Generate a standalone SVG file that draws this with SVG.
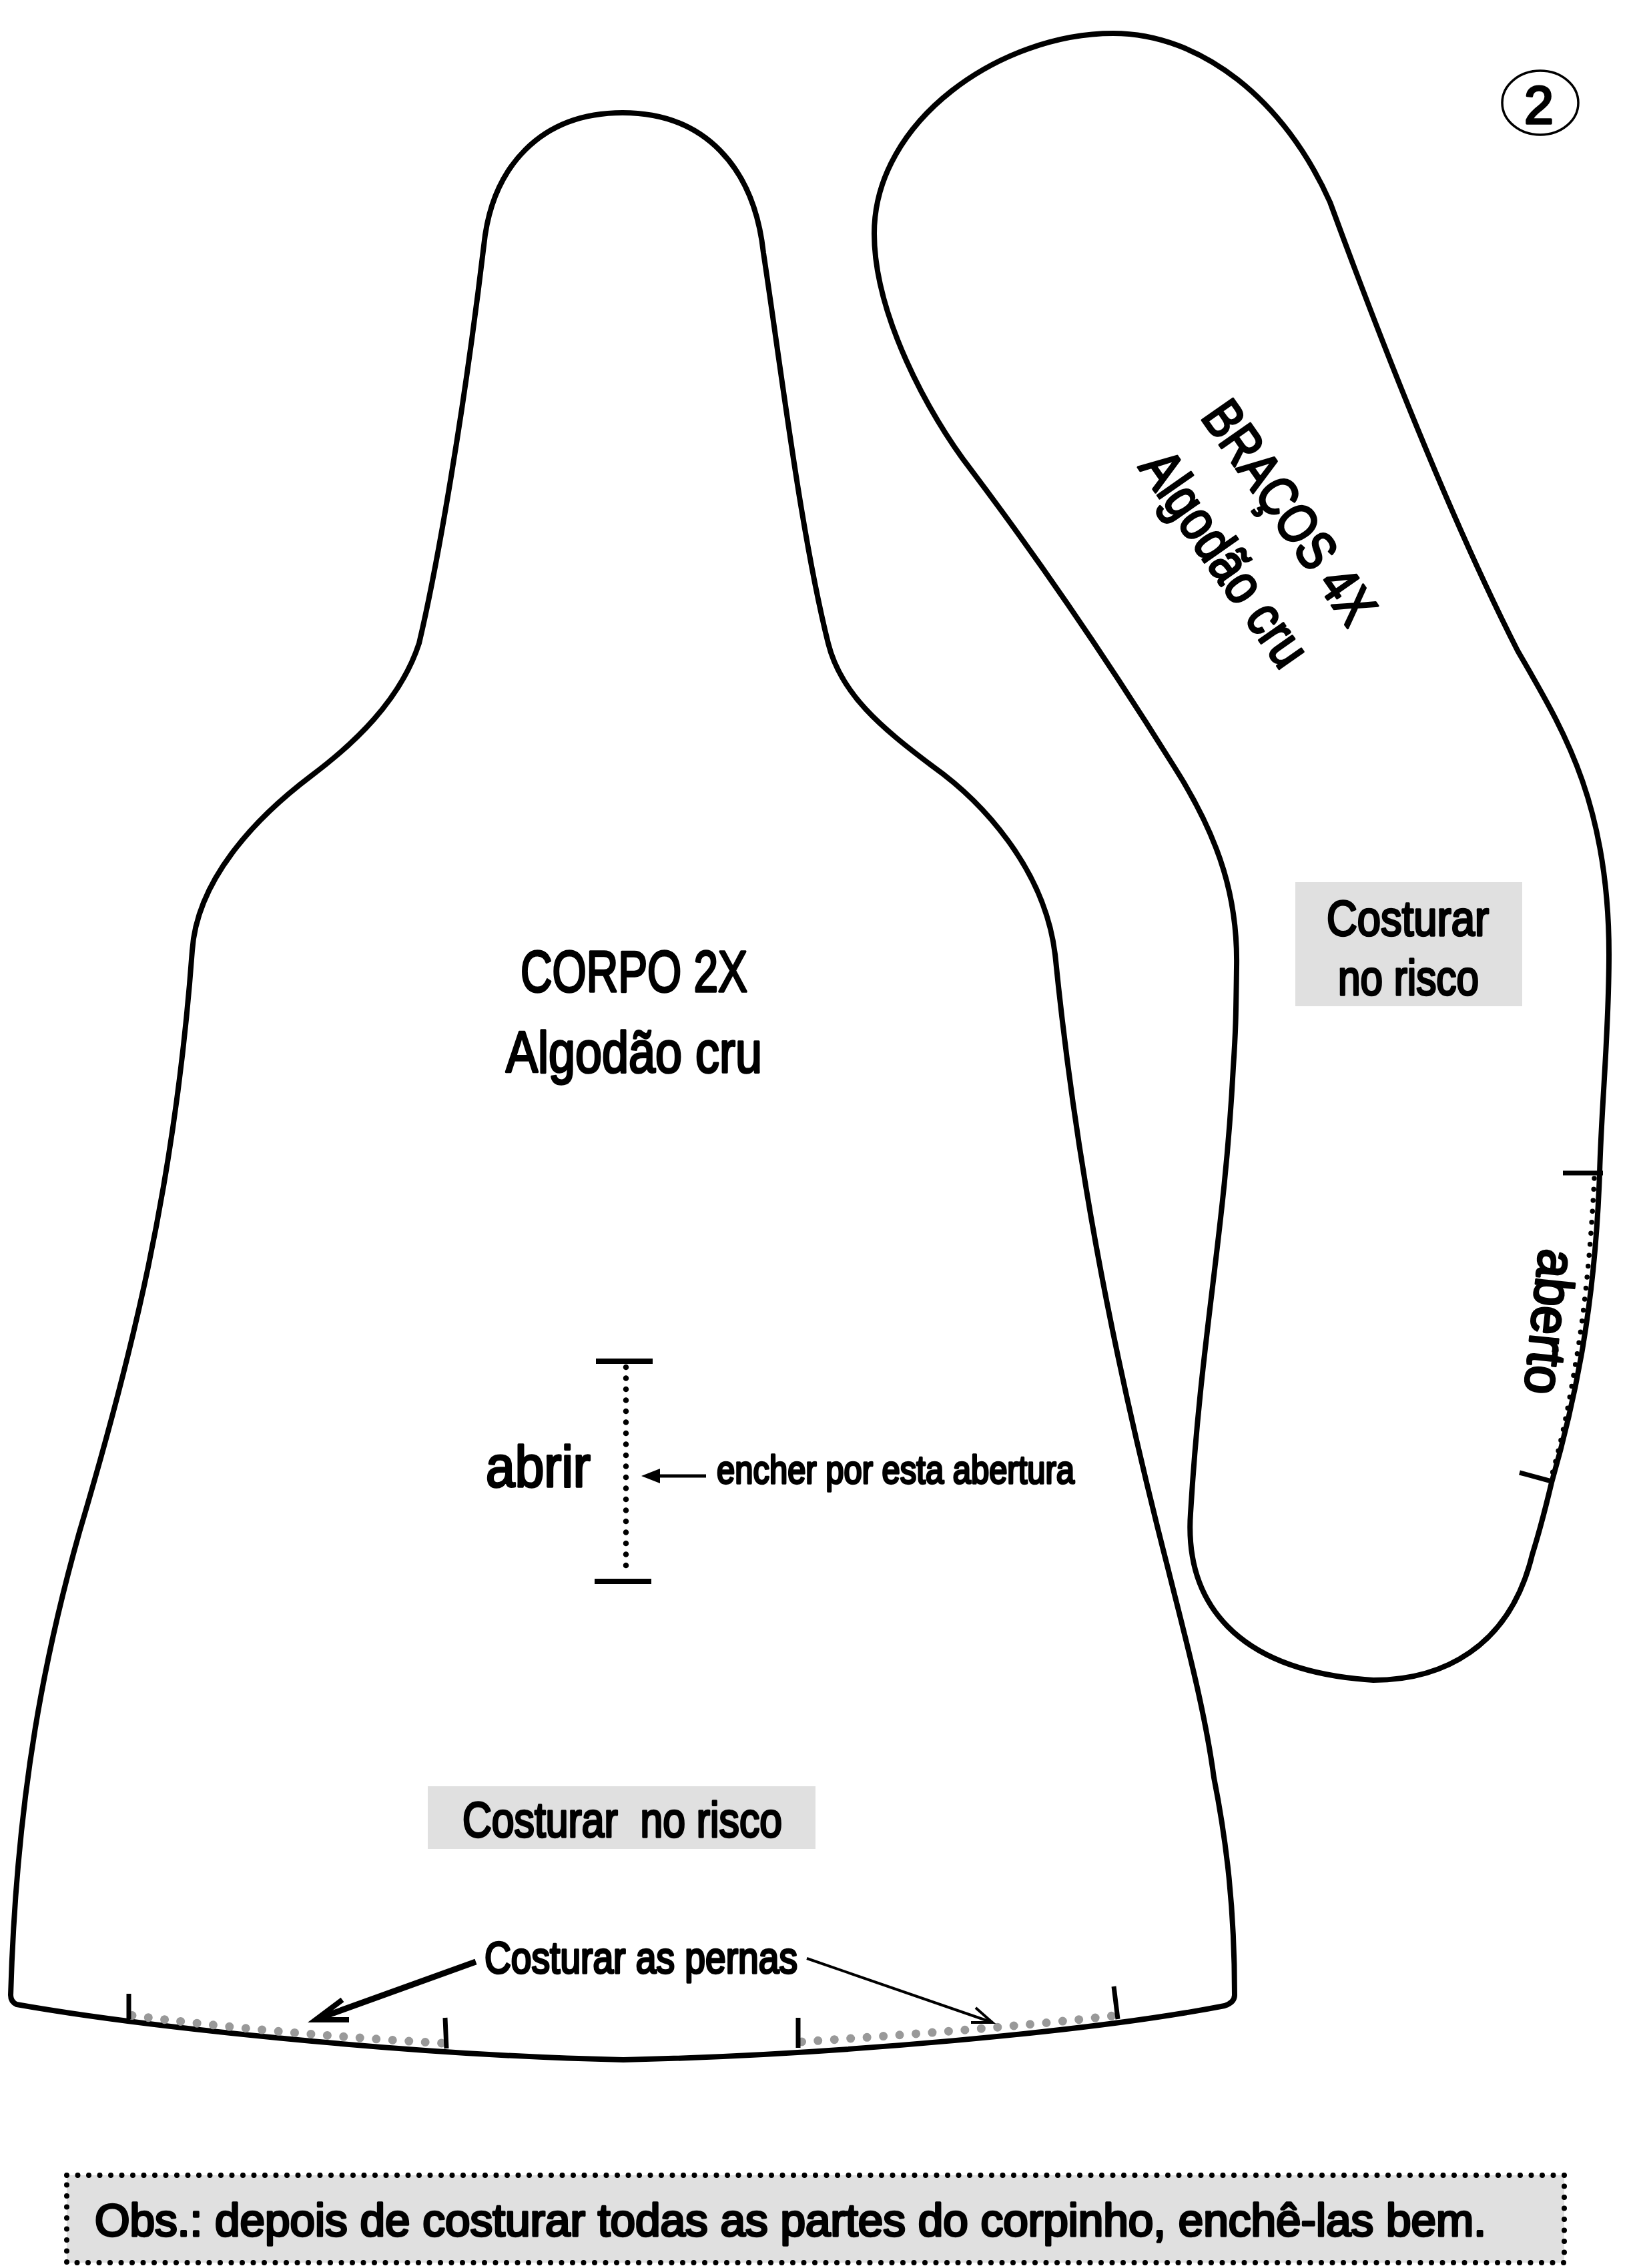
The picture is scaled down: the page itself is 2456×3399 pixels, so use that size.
<svg xmlns="http://www.w3.org/2000/svg" width="2456" height="3399" viewBox="0 0 2456 3399">
<style>
.o{fill:none;stroke:#000;stroke-width:8;stroke-linecap:round;stroke-linejoin:round}
.b{fill:none;stroke:#000;stroke-linecap:butt}
.d{fill:none;stroke:#000;stroke-linecap:round;stroke-dasharray:0 16.5}
.g{fill:none;stroke:#999;stroke-width:13;stroke-linecap:round;stroke-dasharray:0 24.5}
.box{fill:#e0e0e0}
text{font-family:"Liberation Sans",Arial,sans-serif;fill:#000;stroke:#000;stroke-linejoin:round;stroke-width:3.5;white-space:pre}
</style>
<rect width="2456" height="3399" fill="#fff"/>
<g id="body">
<path class="o" d="M933,169 C810,169 737,250 725,368 C695,620 655,850 628,964 C600,1050 530,1115 466,1163 C380,1228 295,1320 288,1425 C262,1780 195,2040 119,2296 C70,2470 25,2680 16,2990 Q16,3000 25,3004 C200,3035 600,3080 934,3087 C1250,3080 1640,3044 1835,3006 Q1850,3001 1850,2990 C1850,2860 1838,2760 1819,2664 C1805,2560 1775,2450 1750,2350 C1660,2000 1610,1720 1581,1430 C1565,1300 1470,1200 1397,1148 C1320,1090 1260,1040 1241,964 C1200,800 1170,550 1144,379 C1130,250 1055,169 933,169Z"/>
<g id="corpo-label">
<text x="780" y="1486" font-size="88" textLength="340" lengthAdjust="spacingAndGlyphs">CORPO 2X</text>
<text x="758" y="1607" font-size="88" textLength="384" lengthAdjust="spacingAndGlyphs">Algodão cru</text>
</g>
</g>
<g id="abrir">
<rect x="893" y="2036" width="85" height="8"/>
<rect x="891" y="2366" width="85" height="8"/>
<path class="d" stroke-width="8.5" d="M938,2049V2362"/>
<text x="728" y="2228" font-size="88" textLength="157" lengthAdjust="spacingAndGlyphs" stroke-width="5">abrir</text>
<text x="1074" y="2223" font-size="60" textLength="536" lengthAdjust="spacingAndGlyphs" stroke-width="2.2">encher por esta abertura</text>
</g>
<g id="costurar-body">
<rect class="box" x="641" y="2677" width="581" height="94"/>
<text x="693" y="2753" font-size="74" textLength="479" lengthAdjust="spacingAndGlyphs">Costurar  no risco</text>
</g>
<g id="pernas">
<text x="726" y="2957" font-size="66" textLength="469" lengthAdjust="spacingAndGlyphs" stroke-width="2.5">Costurar as pernas</text>
<path class="g" d="M198,3020.5 C330,3038 500,3053 663,3062"/>
<path class="g" d="M1201.5,3060 C1350,3050 1520,3038 1673,3020.5"/>
<path class="b" stroke-width="7" d="M193,2988V3026M667,3024L669,3070M1196,3024V3069M1669,2977L1675,3026"/>
</g>
<g id="arm">
<path class="o" d="M1668,50 C1500,50 1310,180 1310,350 C1310,470 1390,620 1455,704 C1550,830 1660,990 1760,1150 C1830,1260 1855,1350 1853,1450 C1852,1520 1852,1540 1848,1600 C1835,1850 1800,2000 1784,2268 C1775,2400 1850,2505 2058,2518 C2160,2518 2262,2470 2296,2330 C2310,2285 2325,2222 2325,2222 C2360,2100 2390,1960 2397,1758 C2400,1650 2411,1550 2411,1430 C2411,1200 2340,1090 2274,975 C2180,790 2080,540 1993,303 C1925,150 1800,50 1668,50Z"/>
<g id="arm-label" >
<text transform="translate(1798,625) rotate(55)" font-size="82" textLength="388" lengthAdjust="spacingAndGlyphs">BRAÇOS 4X</text>
<text transform="translate(1705,700) rotate(55)" font-size="84" textLength="374" lengthAdjust="spacingAndGlyphs">Algodão cru</text>
</g>
<g id="aberto">
<path class="b" stroke-width="7" d="M2342,1758H2402M2277,2207L2325,2220"/>
<path class="d" stroke-width="7.5" d="M2389,1766 C2385,1850 2376,1960 2360,2049 C2350,2110 2340,2160 2325,2212"/>
<text transform="translate(2307,1870) rotate(96)" font-size="80" textLength="218" lengthAdjust="spacingAndGlyphs" stroke-width="4">aberto</text>
</g>
<g id="costurar-arm">
<rect class="box" x="1941" y="1322" width="340" height="186"/>
<text x="1988" y="1402" font-size="74" textLength="243" lengthAdjust="spacingAndGlyphs">Costurar</text>
<text x="2005" y="1491" font-size="74" textLength="211" lengthAdjust="spacingAndGlyphs">no risco</text>
</g>
</g>
<g id="page-number">
<ellipse cx="2308" cy="154" rx="57" ry="48" fill="none" stroke="#000" stroke-width="3.5"/>
<text x="2284" y="185" font-size="80" textLength="44" lengthAdjust="spacingAndGlyphs" stroke-width="0">2</text>
</g>
<g id="note">
<rect class="box" x="100" y="3260" width="2244" height="131"/>
<path class="d" stroke-width="8" d="M100,3260H2344V3391H100Z"/>
<text x="142" y="3351" font-size="68" textLength="2085" lengthAdjust="spacingAndGlyphs">Obs.: depois de costurar todas as partes do corpinho, enchê-las bem.</text>
</g>
<g id="connectors">
<path d="M1058,2212H985" stroke="#000" stroke-width="5" fill="none"/>
<path d="M961,2212L989,2201V2223Z" fill="#000"/>
<path d="M713,2940L480,3024" stroke="#000" stroke-width="9" fill="none"/>
<path d="M513,2997L473,3027H523" stroke="#000" stroke-width="8" fill="none"/>
<path d="M1209,2935L1487,3031" stroke="#000" stroke-width="4" fill="none"/>
<path d="M1462,3009L1487,3031H1455" stroke="#000" stroke-width="4" fill="none"/>
</g>
</svg>
